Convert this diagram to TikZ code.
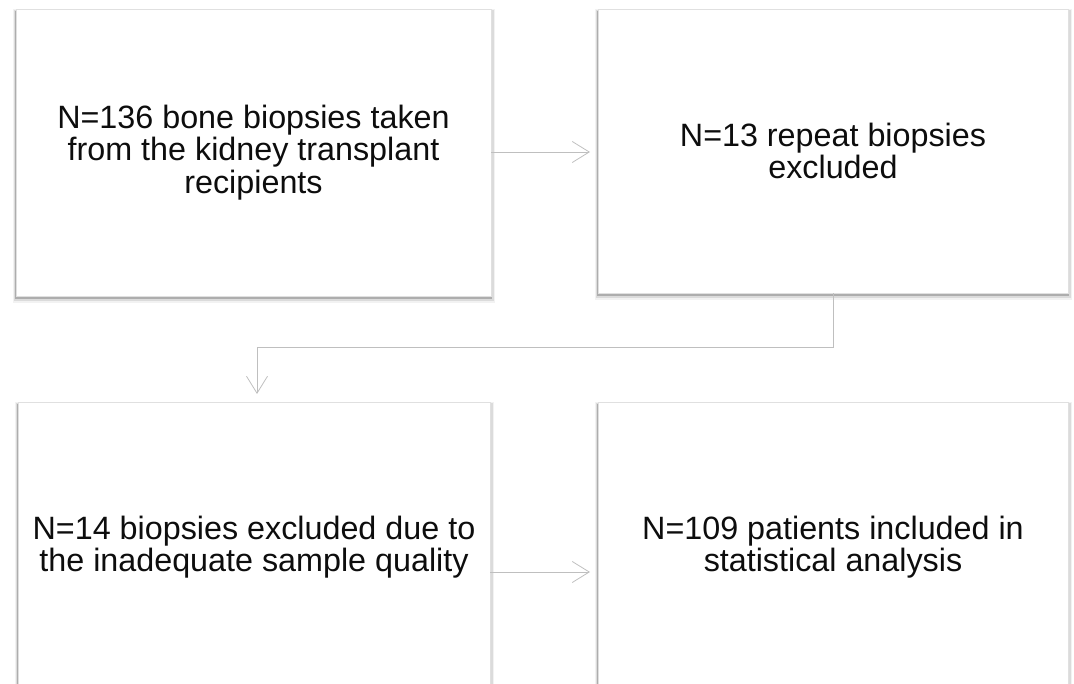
\documentclass[tikz,border=0pt]{standalone}
\usepackage{fontspec}
\setmainfont{Liberation Sans}
\usetikzlibrary{arrows.meta}
\begin{document}
\begin{tikzpicture}[x=1pt,y=-1pt,
  box/.style={draw=black!12, line width=0.6pt, fill=white, align=center, font=\fontsize{32.3}{32.5}\selectfont, text=black!95, inner sep=0pt},
  conn/.style={draw=black!25, line width=0.8pt, -{Straight Barb[length=17pt,width=21pt,line width=0.8pt]}}]
\useasboundingbox (0,0) rectangle (1074,684);
% shadows
\foreach \x/\y/\w/\h in {16/9/475/287, 598/9/470/284, 18/402/472/290, 598/402/470/290}{
  \fill[black!5] (\x-3.5,\y+0) rectangle (\x+\w+3.5,\y+\h+7);
  \fill[black!14] (\x-2.5,\y+1) rectangle (\x+\w+2.5,\y+\h+5);
  \fill[black!32] (\x-1.2,\y+2) rectangle (\x+\w+1.2,\y+\h+3);
}
\node[box, minimum width=475pt, minimum height=287pt] (a) at (253.5,152.5) {N=136 bone biopsies taken\\from the kidney transplant\\recipients};
\node[box, minimum width=470pt, minimum height=284pt] (b) at (833,151) {N=13 repeat biopsies\\excluded};
\node[box, minimum width=472pt, minimum height=290pt] (c) at (254,547) {N=14 biopsies excluded due to\\the inadequate sample quality};
\node[box, minimum width=470pt, minimum height=290pt] (d) at (833,547) {N=109 patients included in\\statistical analysis};
\coordinate (m1) at (833,347);
\coordinate (m2) at (257,347);
\draw[conn] (a.east |- 0,152) -- (590,152);
\draw[conn] (b.south) -- (m1) -- (m2) -- (257,394);
\draw[conn] (c.east |- 0,572) -- (590,572);
\end{tikzpicture}
\end{document}
